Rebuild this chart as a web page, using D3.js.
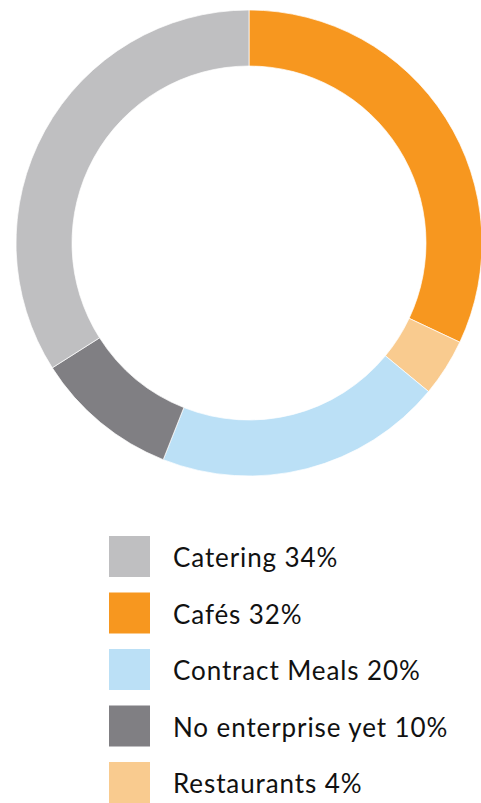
<!DOCTYPE html>
<html>
<head>
<meta charset="utf-8">
<script src="https://cdn.jsdelivr.net/npm/d3@7"></script>
<style>
  body { margin: 0; background: #fff; }
  svg { display: block; }
</style>
</head>
<body>
<div id="chart"></div>
<script>
// order of the ring, clockwise from 12 o'clock
const ringOrder = ['Cafés', 'Restaurants', 'Contract Meals', 'No enterprise yet', 'Catering']
const legendOrder = ['Catering', 'Cafés', 'Contract Meals', 'No enterprise yet', 'Restaurants']
const shares = { 'Catering': 34, 'Cafés': 32, 'Contract Meals': 20, 'No enterprise yet': 10, 'Restaurants': 4 }
const colours = ['#bfbfc1', '#f7971f', '#bbe0f6', '#807f83', '#f9cb8f'] // in legendOrder

const width = 481
const height = 803

const svg = d3.select('#chart')
  .append('svg')
  .attr('width', width)
  .attr('height', height)

const colour = d3.scaleOrdinal()
  .domain(legendOrder)
  .range(colours)

const pie = d3.pie()
  .sort(null)
  .value(d => shares[d])

const arc = d3.arc()
  .innerRadius(177)
  .outerRadius(233)

const ring = svg.append('g')
  .attr('transform', 'translate(249,243)')

ring.selectAll('path')
  .data(pie(ringOrder))
  .enter()
  .append('path')
  .attr('d', arc)
  .attr('fill', d => colour(d.data))
  .attr('stroke', '#fff')
  .attr('stroke-width', 0.7)

// legend
const rowScale = d3.scalePoint()
  .domain(legendOrder)
  .range([536, 762])

const rows = svg.selectAll('.legend')
  .data(legendOrder)
  .enter()
  .append('g')
  .attr('class', 'legend')
  .attr('transform', d => `translate(109,${rowScale(d)})`)

rows.append('rect')
  .attr('width', 41)
  .attr('height', 41)
  .attr('fill', d => colour(d))

rows.append('text')
  .attr('x', 64)
  .attr('y', 31)
  .style('font-family', 'Lato, "Noto Sans", sans-serif')
  .style('font-size', '26px')
  .style('letter-spacing', '0.9px')
  .style('fill', '#111')
  .text(d => `${d} ${shares[d]}%`)
</script>
</body>
</html>
